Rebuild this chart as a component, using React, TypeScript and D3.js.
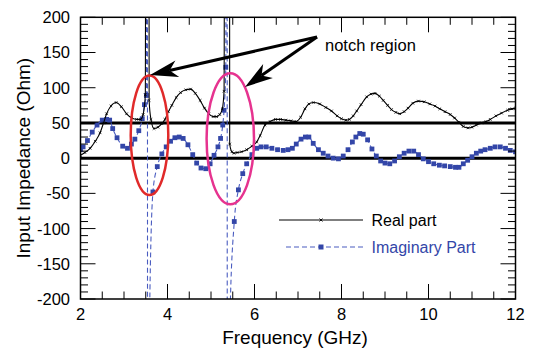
import React from "react";
import * as d3 from "d3";

const xTickValues = [2, 4, 6, 8, 10, 12];
const yTickValues = [-200, -150, -100, -50, 0, 50, 100, 150, 200];
const refLines = [50, 0];
const seriesNames = ["Real part", "Imaginary Part"];
const annotationText = "notch region";
const xTitle = "Frequency (GHz)";
const yTitle = "Input Impedance (Ohm)";

const realFreq = [2.0, 2.1, 2.22, 2.34, 2.45, 2.53, 2.6, 2.7, 2.82, 2.94, 3.06, 3.18, 3.29, 3.38, 3.44, 3.49, 3.515, 3.56, 3.578, 3.62, 3.69, 3.78, 3.87, 3.94, 4.02, 4.1, 4.2, 4.3, 4.42, 4.53, 4.64, 4.75, 4.85, 4.95, 5.05, 5.13, 5.2, 5.26, 5.3, 5.335, 5.415, 5.43, 5.48, 5.53, 5.6, 5.7, 5.82, 5.94, 6.05, 6.13, 6.24, 6.36, 6.48, 6.6, 6.72, 6.84, 6.96, 7.06, 7.16, 7.25, 7.35, 7.5, 7.64, 7.77, 7.9, 8.0, 8.1, 8.18, 8.27, 8.35, 8.45, 8.58, 8.68, 8.77, 8.87, 8.96, 9.06, 9.15, 9.25, 9.34, 9.44, 9.53, 9.64, 9.77, 9.9, 10.03, 10.15, 10.26, 10.38, 10.5, 10.6, 10.7, 10.8, 10.91, 11.0, 11.1, 11.22, 11.32, 11.42, 11.55, 11.68, 11.82, 11.92, 12.0];
const realZ = [4, 8, 14, 24, 36, 50, 63, 74, 79, 73, 63, 57, 55, 55, 62, 90, 1500, 1500, 82, 55, 42, 44, 49, 55, 66, 75, 86, 93, 97, 98, 92, 82, 71, 63, 59, 59, 62, 70, 95, 1500, 1500, 20, 9, 7, 8, 9, 12, 17, 23, 32, 47, 52, 55, 55, 54, 53, 52, 58, 70, 77, 79, 77, 72, 67, 60, 56, 54, 55, 60, 67, 76, 87, 91, 92, 88, 82, 75, 69, 65, 63, 66, 71, 78, 81, 80, 77, 74, 70, 66, 62, 57, 51, 45, 43, 44, 47, 50, 52, 55, 60, 64, 68, 70, 71];

const imagFreq = [2.0, 2.06, 2.16, 2.27, 2.38, 2.5, 2.6, 2.67, 2.74, 2.84, 2.97, 3.08, 3.17, 3.25, 3.34, 3.42, 3.47, 3.515, 3.535, 3.545, 3.58, 3.665, 3.765, 3.87, 3.97, 4.07, 4.17, 4.27, 4.36, 4.47, 4.58, 4.67, 4.77, 4.88, 4.98, 5.07, 5.16, 5.22, 5.27, 5.3, 5.34, 5.365, 5.38, 5.435, 5.535, 5.63, 5.73, 5.82, 5.94, 6.05, 6.15, 6.27, 6.4, 6.53, 6.66, 6.77, 6.87, 6.96, 7.07, 7.17, 7.25, 7.35, 7.47, 7.58, 7.69, 7.81, 7.93, 8.04, 8.15, 8.25, 8.33, 8.42, 8.5, 8.6, 8.7, 8.8, 8.9, 9.0, 9.11, 9.22, 9.33, 9.44, 9.55, 9.66, 9.77, 9.88, 10.0, 10.12, 10.25, 10.37, 10.5, 10.62, 10.7, 10.8, 10.9, 11.0, 11.1, 11.2, 11.3, 11.42, 11.53, 11.65, 11.77, 11.88, 12.0];
const imagZ = [12, 16, 25, 37, 47, 54, 55, 54, 42, 29, 17, 14, 20, 27, 39, 56, 76, 89, 1500, -1500, -260, -48, -12, 6, 16, 24, 29, 30, 28, 19, 5, -7, -14, -15, -8, 4, 16, 28, 47, 68, 129, 1500, -1500, -230, -90, -45, -22, -8, 5, 14, 16, 16, 14, 12, 11, 12, 14, 20, 27, 30, 30, 21, 12, 7, 3, 0, -1, 3, 12, 23, 30, 35, 34, 26, 13, 3, -4, -7, -8, -4, 2, 7, 10, 10, 5, -1, -5, -8, -10, -11, -12, -13, -13, -8, -3, 2, 7, 10, 12, 14, 16, 16, 14, 11, 9];

const W = 533;
const H = 352;
const m = { left: 80.5, right: 515.5, top: 17.3, bottom: 299 };
const FONT = "'Liberation Sans', Arial, Helvetica, sans-serif";
const BLUE = "#3346a8";
const BLUE_LINE = "#4a5cc0";

export default function App() {
  const x = d3.scaleLinear().domain([2, 12]).range([m.left, m.right]);
  const y = d3.scaleLinear().domain([-200, 200]).range([m.bottom, m.top]);

  const real = realFreq.map((f, i) => [f, realZ[i]] as [number, number]);
  const imag = imagFreq.map((f, i) => [f, imagZ[i]] as [number, number]);

  const line = d3
    .line<[number, number]>()
    .x((d) => x(d[0]))
    .y((d) => y(d[1]))
    .curve(d3.curveMonotoneX);

  const xMinor = d3.range(2, 12.0001, 0.5).filter((v) => !xTickValues.includes(v));
  const yMinor = d3.range(-200, 200.0001, 10).filter((v) => !yTickValues.includes(v));

  const tickLines: JSX.Element[] = [];
  const addX = (v: number, len: number, key: string) => {
    tickLines.push(<line key={key + "b"} x1={x(v)} x2={x(v)} y1={m.bottom} y2={m.bottom - len} />);
    tickLines.push(<line key={key + "t"} x1={x(v)} x2={x(v)} y1={m.top} y2={m.top + len} />);
  };
  const addY = (v: number, len: number, key: string) => {
    tickLines.push(<line key={key + "l"} x1={m.left} x2={m.left + len} y1={y(v)} y2={y(v)} />);
    tickLines.push(<line key={key + "r"} x1={m.right} x2={m.right - len} y1={y(v)} y2={y(v)} />);
  };
  xTickValues.forEach((v) => addX(v, 15, "xM" + v));
  xMinor.forEach((v) => addX(v, 7.5, "xm" + v));
  yTickValues.forEach((v) => addY(v, 15, "yM" + v));
  yMinor.forEach((v) => addY(v, 7.5, "ym" + v));

  const inRange = (d: [number, number]) => d[1] >= -200 && d[1] <= 200;

  const arrowHead = (fromX: number, fromY: number, tipX: number, tipY: number, len: number, half: number) => {
    const dx = tipX - fromX;
    const dy = tipY - fromY;
    const L = Math.hypot(dx, dy);
    const ux = dx / L;
    const uy = dy / L;
    const px = -uy;
    const py = ux;
    const bx = tipX - ux * len;
    const by = tipY - uy * len;
    const nx = tipX - ux * len * 0.72;
    const ny = tipY - uy * len * 0.72;
    return `M${tipX},${tipY}L${bx + px * half},${by + py * half}L${nx},${ny}L${bx - px * half},${by - py * half}Z`;
  };
  const arrowStart = [317, 37];
  const arrowTips = [
    [150, 75],
    [245, 87],
  ];

  const legendY = [220, 247];
  const legendX1 = 279;
  const legendX2 = 363;
  const legendMid = 321;

  return (
    <svg
      width={W}
      height={H}
      style={{ position: "absolute", left: 0, top: 0, background: "#fff" }}
      fontFamily={FONT}
    >
      <defs>
        <clipPath id="plotClip">
          <rect x={m.left} y={m.top} width={m.right - m.left} height={m.bottom - m.top} />
        </clipPath>
      </defs>
      <rect x={0} y={0} width={W} height={H} fill="#fff" />

      {refLines.map((v) => (
        <line key={"ref" + v} x1={m.left} x2={m.right} y1={y(v)} y2={y(v)} stroke="#000" strokeWidth={3} />
      ))}

      <g clipPath="url(#plotClip)">
        <path d={line(imag) || ""} fill="none" stroke={BLUE_LINE} strokeWidth={1.1} strokeDasharray="5,3" />
        {imag.filter(inRange).map((d, i) => (
          <rect key={"im" + i} x={x(d[0]) - 2.4} y={y(d[1]) - 2.4} width={4.8} height={4.8} fill={BLUE} />
        ))}
        <path d={line(real) || ""} fill="none" stroke="#000" strokeWidth={1.1} />
        {real.filter(inRange).map((d, i) => (
          <path
            key={"re" + i}
            d={`M${x(d[0]) - 1.3},${y(d[1]) - 1.3}L${x(d[0]) + 1.3},${y(d[1]) + 1.3}M${x(d[0]) - 1.3},${y(d[1]) + 1.3}L${x(d[0]) + 1.3},${y(d[1]) - 1.3}`}
            stroke="#000"
            strokeWidth={0.8}
          />
        ))}
      </g>

      <g stroke="#000" strokeWidth={1}>
        {tickLines}
      </g>
      <rect
        x={m.left}
        y={m.top}
        width={m.right - m.left}
        height={m.bottom - m.top}
        fill="none"
        stroke="#000"
        strokeWidth={1.5}
      />

      {xTickValues.map((v) => (
        <text key={"xl" + v} x={x(v)} y={320} fontSize={16.5} textAnchor="middle" fill="#000">
          {String(v)}
        </text>
      ))}
      {yTickValues.map((v) => (
        <text key={"yl" + v} x={70} y={y(v)} dy="0.36em" fontSize={16.5} textAnchor="end" fill="#000">
          {String(v)}
        </text>
      ))}

      <text x={(m.left + m.right) / 2 - 3} y={344} fontSize={19} textAnchor="middle" fill="#000">
        {xTitle}
      </text>
      <text
        transform={`translate(30,${(m.top + m.bottom) / 2}) rotate(-90)`}
        fontSize={19}
        textAnchor="middle"
        fill="#000"
      >
        {yTitle}
      </text>

      <ellipse cx={149.5} cy={135.3} rx={18.8} ry={59.7} fill="none" stroke="#e02a2a" strokeWidth={2.5} />
      <ellipse cx={230.3} cy={138.8} rx={23.7} ry={65.5} fill="none" stroke="#e6338f" strokeWidth={2.5} />

      {arrowTips.map((t, i) => {
        const dx = t[0] - arrowStart[0];
        const dy = t[1] - arrowStart[1];
        const L = Math.hypot(dx, dy);
        const ex = t[0] - (dx / L) * 20;
        const ey = t[1] - (dy / L) * 20;
        return (
          <g key={"arr" + i}>
            <line x1={arrowStart[0]} y1={arrowStart[1]} x2={ex} y2={ey} stroke="#000" strokeWidth={3} />
            <path d={arrowHead(arrowStart[0], arrowStart[1], t[0], t[1], 28, 8.5)} fill="#000" />
          </g>
        );
      })}
      <text x={325} y={50.5} fontSize={16.5} fill="#000">
        {annotationText}
      </text>

      <line x1={legendX1} x2={legendX2} y1={legendY[0]} y2={legendY[0]} stroke="#000" strokeWidth={1.1} />
      <path
        d={`M${legendMid - 1.5},${legendY[0] - 1.5}L${legendMid + 1.5},${legendY[0] + 1.5}M${legendMid - 1.5},${legendY[0] + 1.5}L${legendMid + 1.5},${legendY[0] - 1.5}`}
        stroke="#000"
        strokeWidth={0.9}
      />
      <text x={371.5} y={legendY[0] + 5.5} fontSize={16} fill="#000">
        {seriesNames[0]}
      </text>
      <line
        x1={legendX1 + 7}
        x2={legendX2}
        y1={legendY[1]}
        y2={legendY[1]}
        stroke={BLUE_LINE}
        strokeWidth={1.1}
        strokeDasharray="5,3"
      />
      <rect x={legendMid - 2.5} y={legendY[1] - 2.5} width={5} height={5} fill={BLUE} />
      <text x={371.5} y={legendY[1] + 5.5} fontSize={16} fill={BLUE}>
        {seriesNames[1]}
      </text>
    </svg>
  );
}
